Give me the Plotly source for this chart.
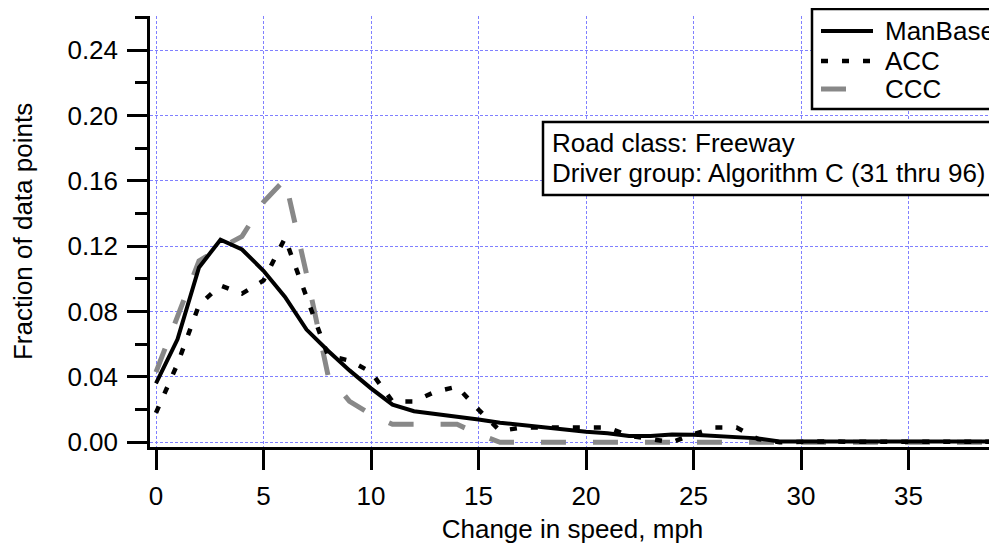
import plotly.graph_objects as go

# ---------------- data ----------------
speed_change = list(range(0, 41))

manbase = [0.036, 0.063, 0.107, 0.124, 0.118, 0.105, 0.089, 0.069, 0.056, 0.044,
           0.033, 0.023, 0.019, 0.0175, 0.016, 0.014, 0.012, 0.0105, 0.0096, 0.0078,
           0.0065, 0.0055, 0.0039, 0.0039, 0.0048, 0.0046, 0.004, 0.0034, 0.0024, 0.0005,
           0.0005, 0.0009, 0.0008, 0.0005, 0.0006, 0.0004, 0.0005, 0.0004, 0.0003, 0.0005, 0.0004]

acc = [0.018, 0.048, 0.084, 0.096, 0.091, 0.099, 0.125, 0.088, 0.053, 0.050,
       0.043, 0.025, 0.025, 0.031, 0.034, 0.020, 0.007, 0.009, 0.009, 0.009,
       0.009, 0.009, 0.004, 0.002, 0.0, 0.005, 0.009, 0.009, 0.002, 0.0,
       0.0005, 0.0005, 0.0004, 0.0005, 0.0003, 0.0004, 0.0005, 0.0003, 0.0004, 0.0005, 0.0004]

ccc = [0.043, 0.078, 0.111, 0.119, 0.126, 0.147, 0.161, 0.103, 0.041, 0.025,
       0.017, 0.011, 0.011, 0.011, 0.011, 0.005, 0.0, 0.0, 0.0, 0.0,
       0.0, 0.0, 0.0, 0.0, 0.0, 0.0, 0.0, 0.0, 0.0, 0.0,
       0.0, 0.0, 0.0, 0.0, 0.0, 0.0, 0.0, 0.0, 0.0, 0.0, 0.0]

series_names = ["ManBase", "ACC", "CCC"]
x_ticks = [0, 5, 10, 15, 20, 25, 30, 35]
y_ticks = [0.00, 0.04, 0.08, 0.12, 0.16, 0.20, 0.24]
info_lines = ["Road class: Freeway", "Driver group: Algorithm C (31 thru 96)"]
x_title = "Change in speed, mph"
y_title = "Fraction of data points"

# ---------------- styles ----------------
FONT = "Liberation Sans, Arial, Helvetica, sans-serif"
FS = 26
GRAY = "rgb(136,136,136)"
GRID = "rgb(128,128,255)"
styles = {
    "ManBase": dict(color="black", width=4, dash="solid"),
    "ACC": dict(color="black", width=4.5, dash="7px,14px"),
    "CCC": dict(color=GRAY, width=5, dash="25px,27px"),
}

fig = go.Figure()
series = {"ManBase": manbase, "ACC": acc, "CCC": ccc}
for name in ["CCC", "ACC", "ManBase"]:
    fig.add_trace(go.Scatter(x=speed_change, y=series[name], mode="lines", name=name,
                             line=styles[name], showlegend=False))

# page body has an 8px margin -> figure is 8px smaller than the window
OFF = 8
W, H = 997 - OFF, 544 - OFF
L, R, T, B = 142, 2, 8, 97
pw, ph = W - L - R, H - T - B

def px(sx):
    return (sx - OFF - L) / pw

def py(sy):
    return 1 - (sy - OFF - T) / ph

fig.update_layout(
    template="none",
    width=W, height=H,
    margin=dict(l=L, r=R, t=T, b=B, pad=0, autoexpand=False),
    paper_bgcolor="white", plot_bgcolor="white",
    font=dict(family=FONT, size=FS, color="black"),
    showlegend=False,
)

fig.update_xaxes(
    automargin=False,
    range=[-0.279, 39.02], tickmode="array", tickvals=x_ticks,
    ticktext=[str(v) for v in x_ticks],
    showline=True, linecolor="black", linewidth=2.5,
    ticks="outside", ticklen=20, tickwidth=2.5, tickcolor="black",
    ticklabelstandoff=4,
    showgrid=True, gridcolor=GRID, gridwidth=1, griddash="3px,2px",
    zeroline=False,
    title=dict(text=x_title, standoff=11, font=dict(size=FS)),
    tickfont=dict(size=FS),
)
fig.update_yaxes(
    automargin=False,
    range=[-0.00288, 0.2609], tickmode="array", tickvals=y_ticks,
    ticktext=[f"{v:.2f}" for v in y_ticks],
    showline=True, linecolor="black", linewidth=2.5,
    ticks="outside", ticklen=20, tickwidth=2.5, tickcolor="black",
    ticklabelstandoff=4,
    minor=dict(tickvals=[0.02, 0.06, 0.10, 0.14, 0.18, 0.22, 0.26],
               ticklen=12, tickwidth=2.5, tickcolor="black", ticks="outside", showgrid=False),
    showgrid=True, gridcolor=GRID, gridwidth=1, griddash="3px,2px",
    zeroline=False,
    title=dict(text=y_title, standoff=29, font=dict(size=FS)),
    tickfont=dict(size=FS),
)

# ---------------- legend (drawn) ----------------
shapes = []
annotations = []
shapes.append(dict(type="rect", xref="paper", yref="paper",
                   x0=px(812), x1=px(1010), y0=py(109), y1=py(9),
                   line=dict(color="black", width=2.5), fillcolor="white", layer="above"))
row_y = {"ManBase": 31, "ACC": 61, "CCC": 89}
for name in series_names:
    st = styles[name]
    shapes.append(dict(type="line", xref="paper", yref="paper",
                       x0=px(821), x1=px(873), y0=py(row_y[name]), y1=py(row_y[name]),
                       line=dict(color=st["color"], width=st["width"], dash=st["dash"]),
                       layer="above"))
    annotations.append(dict(text=name, xref="paper", yref="paper",
                            x=px(883), y=py(row_y[name]), xanchor="left", yanchor="middle",
                            showarrow=False, font=dict(size=FS, color="black")))

# ---------------- info box ----------------
shapes.append(dict(type="rect", xref="paper", yref="paper",
                   x0=px(543), x1=px(1010), y0=py(195), y1=py(122),
                   line=dict(color="black", width=2.5), fillcolor="white", layer="above"))
for i, txt in enumerate(info_lines):
    annotations.append(dict(text=txt, xref="paper", yref="paper",
                            x=px(550), y=py(143 + 30 * i), xanchor="left", yanchor="middle",
                            showarrow=False, font=dict(size=FS, color="black")))

fig.update_layout(shapes=shapes, annotations=annotations)

fig.write_html("out.html")
